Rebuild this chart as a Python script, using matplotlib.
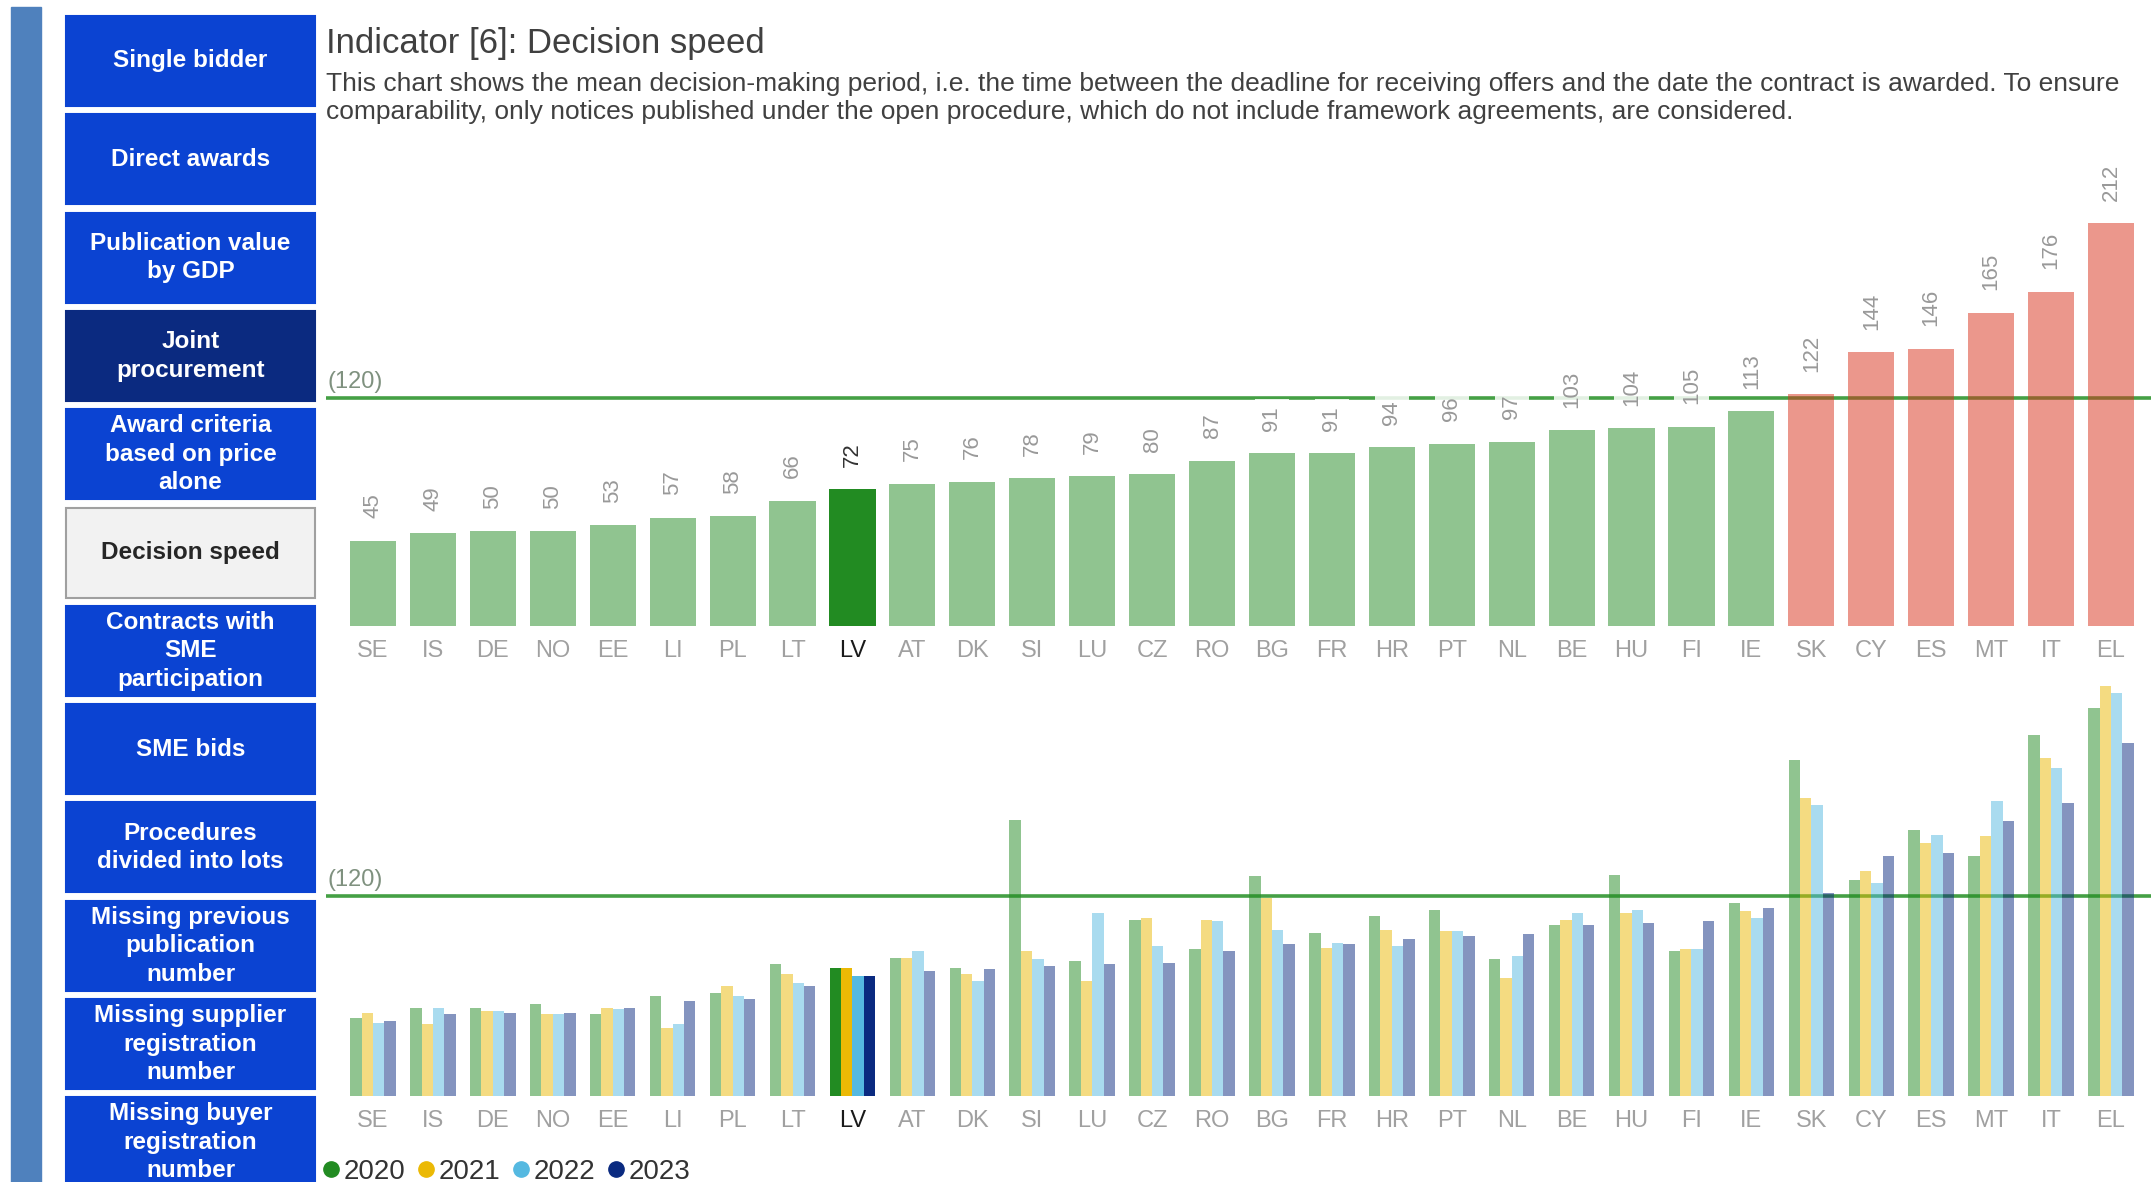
import numpy as np
import matplotlib.pyplot as plt
from matplotlib.patches import Rectangle
from matplotlib.lines import Line2D

plt.rcParams['font.family'] = ['Liberation Sans', 'DejaVu Sans']

# data
countries = ['SE', 'IS', 'DE', 'NO', 'EE', 'LI', 'PL', 'LT', 'LV', 'AT', 'DK', 'SI', 'LU', 'CZ', 'RO',
             'BG', 'FR', 'HR', 'PT', 'NL', 'BE', 'HU', 'FI', 'IE', 'SK', 'CY', 'ES', 'MT', 'IT', 'EL']
speed_latest = [45, 49, 50, 50, 53, 57, 58, 66, 72, 75, 76, 78, 79, 80, 87,
                91, 91, 94, 96, 97, 103, 104, 105, 113, 122, 144, 146, 165, 176, 212]
days_2020 = [47, 53, 53, 55, 49, 60, 62, 79, 77, 83, 77, 166, 81, 106, 88,
             132, 98, 108, 112, 82, 103, 133, 87, 116, 202, 130, 160, 144, 217, 233]
days_2021 = [50, 43, 51, 49, 53, 41, 66, 73, 77, 83, 73, 87, 69, 107, 106,
             119, 89, 100, 99, 71, 106, 110, 88, 111, 179, 135, 152, 156, 203, 246]
days_2022 = [44, 53, 51, 49, 52, 43, 60, 68, 72, 87, 69, 82, 110, 90, 105,
             100, 92, 90, 99, 84, 110, 112, 88, 107, 175, 128, 157, 177, 197, 242]
days_2023 = speed_latest
years = ['2020', '2021', '2022', '2023']
threshold = 120
highlight = 'LV'

menu_items = ['Single bidder', 'Direct awards', 'Publication value\nby GDP', 'Joint\nprocurement',
              'Award criteria\nbased on price\nalone', 'Decision speed', 'Contracts with\nSME\nparticipation',
              'SME bids', 'Procedures\ndivided into lots', 'Missing previous\npublication\nnumber',
              'Missing supplier\nregistration\nnumber', 'Missing buyer\nregistration\nnumber']
active_item = 'Decision speed'
visited_item = 'Joint\nprocurement'

year_colors = ['#228b22', '#ebb905', '#55b9e1', '#0a2a80']
good_color = '#228b22'
bad_color = '#d8301a'
line_color = '#45a045'

W, H = 2151, 1182
fig = plt.figure(figsize=(W / 100, H / 100), dpi=100)

# side menu, drawn in pixel coordinates
bg = fig.add_axes([0, 0, 1, 1])
bg.set_xlim(0, W)
bg.set_ylim(H, 0)
bg.axis('off')
bg.add_patch(Rectangle((11, 7), 30, H, color='#4f81bd'))
for i, item in enumerate(menu_items):
    y0 = 16 + i * 98.3
    if item == active_item:
        fc, ec, tc = '#f2f2f2', '#a0a0a0', '#262626'
    elif item == visited_item:
        fc, ec, tc = '#0b2a80', '#0b2a80', 'white'
    else:
        fc, ec, tc = '#0b43d2', '#0b43d2', 'white'
    bg.add_patch(Rectangle((66, y0), 249, 90, facecolor=fc, edgecolor=ec, lw=1.5))
    bg.text(190.5, y0 + 45, item, ha='center', va='center', color=tc, fontsize=17.5,
            fontweight='bold', linespacing=1.3)

fig.text(326 / W, 1 - 43 / H, 'Indicator [6]: Decision speed', fontsize=25, color='#404040', va='center')
fig.text(326 / W, 1 - 98 / H,
         'This chart shows the mean decision-making period, i.e. the time between the deadline for receiving '
         'offers and the date the contract is awarded. To ensure\ncomparability, only notices published under '
         'the open procedure, which do not include framework agreements, are considered.',
         fontsize=19, color='#404040', va='center', linespacing=1.2)

x = np.arange(len(countries))
hi = countries.index(highlight)
xl = (-(373 - 326) / 59.93, 29 + (W - 2111) / 59.93)


def style_axis(ax):
    ax.set_facecolor('none')
    for s in ax.spines.values():
        s.set_visible(False)
    ax.set_yticks([])
    ax.set_xlim(*xl)
    ax.set_xticks(x, countries)
    ax.tick_params(axis='x', length=0, pad=10, labelsize=17, labelcolor='#a0a0a0')
    ax.get_xticklabels()[hi].set_color('#1a1a1a')
    ax.axhline(threshold, color=line_color, lw=2.6, zorder=1)
    ax.annotate('(%d)' % threshold, xy=(0, threshold), xycoords=('axes fraction', 'data'),
                xytext=(1, 7), textcoords='offset points', fontsize=17, color='#7f917f')


# top chart: latest values
ax1 = fig.add_axes([326 / W, 1 - 626 / H, (W - 326) / W, (626 - 140) / H])
style_axis(ax1)
ax1.set_ylim(0, (626 - 140) / 1.9)
cols = [good_color if v < threshold else bad_color for v in speed_latest]
bars = ax1.bar(x, speed_latest, width=0.77, color=cols, alpha=0.5, zorder=2)
bars[hi].set_alpha(1)
for xi, v, c in zip(x, speed_latest, countries):
    ax1.annotate(str(v), (xi, v), xytext=(0, 16), textcoords='offset points', rotation=90,
                 ha='center', va='bottom', fontsize=16,
                 color='#333333' if c == highlight else '#999999',
                 bbox=dict(boxstyle='square,pad=0.3', fc='white', ec='none', alpha=0.85), zorder=3)

# bottom chart: yearly values
ax2 = fig.add_axes([326 / W, 1 - 1096 / H, (W - 326) / W, (1096 - 676) / H])
style_axis(ax2)
ax2.set_ylim(0, (1096 - 676) / 1.665)
w = 0.19
series = [days_2020, days_2021, days_2022, days_2023]
for k, (vals, col) in enumerate(zip(series, year_colors)):
    b = ax2.bar(x + (k - 1.5) * w, vals, width=w, color=col, alpha=0.5, zorder=2, lw=0)
    b[hi].set_alpha(1)

handles = [Line2D([], [], ls='none', marker='o', ms=11, color=c) for c in year_colors]
fig.legend(handles, years, loc='center left', bbox_to_anchor=(324 / W, 1 - 1172 / H), ncol=4,
           frameon=False, fontsize=20, handlelength=0.5, handletextpad=0.2, columnspacing=0.5,
           labelcolor='#333333', borderaxespad=0, borderpad=0)

fig.savefig('out.png', dpi=100)
